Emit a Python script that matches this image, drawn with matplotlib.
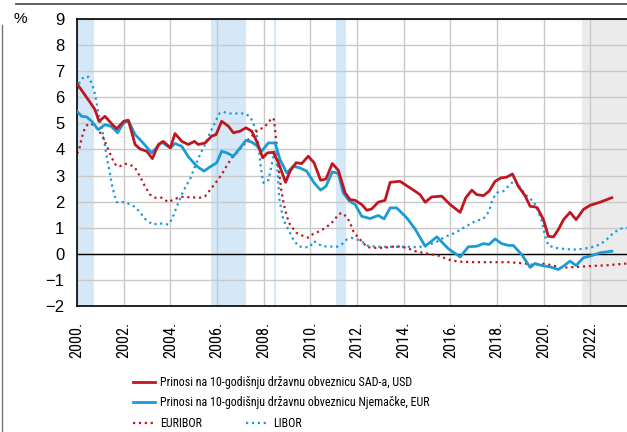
import matplotlib
matplotlib.use("Agg")
import matplotlib.pyplot as plt
from matplotlib import font_manager
import matplotlib.transforms as mtransforms
from matplotlib.lines import Line2D

# condensed font for legend and x labels
names = set(f.name for f in font_manager.fontManager.ttflist)
cond = "Liberation Sans"
for n in ["Liberation Sans Narrow", "Roboto Condensed", "Archivo Narrow",
          "Barlow Semi Condensed", "Asap Condensed"]:
    if n in names:
        cond = n
        break
plt.rcParams["font.family"] = [cond, "DejaVu Sans"]
regular = ["Liberation Sans", "DejaVu Sans"]

# prinosi na 10-godisnju obveznicu SAD-a
us_t = [2000.0, 2000.48, 2000.77, 2000.94, 2001.2, 2001.45, 2001.7, 2002.0, 2002.2, 2002.49,
        2002.7, 2002.99, 2003.23, 2003.49, 2003.7, 2004.0, 2004.2, 2004.49, 2004.77, 2005.03,
        2005.2, 2005.49, 2005.77, 2005.96, 2006.2, 2006.49, 2006.7, 2006.99, 2007.24, 2007.49,
        2007.7, 2007.96, 2008.16, 2008.41, 2008.63, 2008.94, 2009.13, 2009.39, 2009.63, 2009.91,
        2010.16, 2010.44, 2010.67, 2010.94, 2011.2, 2011.49, 2011.7, 2011.92, 2012.2, 2012.42,
        2012.63, 2012.91, 2013.2, 2013.42, 2013.84, 2014.27, 2014.49, 2014.7, 2014.92, 2015.2,
        2015.63, 2015.99, 2016.42, 2016.66, 2016.92, 2017.13, 2017.42, 2017.66, 2017.92, 2018.17,
        2018.42, 2018.66, 2018.91, 2019.2, 2019.42, 2019.63, 2019.73, 2019.99, 2020.2, 2020.42,
        2020.63, 2020.85, 2021.13, 2021.39, 2021.7, 2021.99, 2022.42, 2022.92]
us_y = [6.52, 5.91, 5.53, 5.08, 5.27, 5.02, 4.79, 5.08, 5.12, 4.19,
        4.02, 3.93, 3.65, 4.19, 4.31, 4.06, 4.61, 4.31, 4.19, 4.31,
        4.19, 4.25, 4.51, 4.57, 5.08, 4.89, 4.64, 4.70, 4.83, 4.70,
        4.31, 3.68, 3.87, 3.89, 3.49, 2.74, 3.17, 3.49, 3.46, 3.74,
        3.49, 2.82, 2.87, 3.46, 3.20, 2.34, 2.08, 2.05, 1.89, 1.67,
        1.72, 1.98, 2.05, 2.74, 2.78, 2.53, 2.40, 2.27, 1.98, 2.18,
        2.21, 1.89, 1.59, 2.15, 2.44, 2.27, 2.23, 2.40, 2.78, 2.91,
        2.94, 3.06, 2.59, 2.23, 1.82, 1.80, 1.76, 1.31, 0.67, 0.65,
        0.93, 1.31, 1.59, 1.31, 1.70, 1.86, 1.98, 2.15]

# prinosi na 10-godisnju obveznicu Njemacke
de_t = [2000.0, 2000.2, 2000.41, 2000.63, 2000.91, 2001.2, 2001.46, 2001.74, 2002.0, 2002.2,
        2002.49, 2002.77, 2003.2, 2003.63, 2004.0, 2004.2, 2004.49, 2004.77, 2005.13, 2005.44,
        2005.7, 2005.99, 2006.2, 2006.42, 2006.7, 2006.99, 2007.24, 2007.49, 2007.7, 2007.91,
        2008.2, 2008.49, 2008.7, 2008.99, 2009.27, 2009.56, 2009.84, 2010.16, 2010.44, 2010.67,
        2010.94, 2011.2, 2011.41, 2011.67, 2011.92, 2012.2, 2012.56, 2012.91, 2013.16, 2013.42,
        2013.7, 2014.13, 2014.49, 2014.92, 2015.42, 2015.92, 2016.42, 2016.77, 2017.13, 2017.42,
        2017.66, 2017.92, 2018.2, 2018.49, 2018.7, 2019.06, 2019.42, 2019.63, 2019.92, 2020.27,
        2020.63, 2020.85, 2021.13, 2021.39, 2021.7, 2022.06, 2022.42, 2022.92]
de_y = [5.46, 5.27, 5.25, 5.08, 4.76, 4.95, 4.89, 4.64, 5.02, 5.11,
        4.57, 4.31, 3.87, 4.28, 4.06, 4.23, 4.12, 3.72, 3.36, 3.17,
        3.33, 3.49, 3.93, 3.87, 3.74, 4.06, 4.35, 4.28, 4.15, 3.93,
        4.25, 4.25, 3.61, 3.10, 3.36, 3.29, 3.17, 2.72, 2.44, 2.59,
        3.14, 3.08, 2.34, 2.02, 1.89, 1.44, 1.35, 1.47, 1.34, 1.76,
        1.76, 1.38, 0.95, 0.29, 0.65, 0.19, -0.12, 0.27, 0.29, 0.39,
        0.36, 0.57, 0.39, 0.32, 0.32, -0.03, -0.52, -0.37, -0.45, -0.50,
        -0.60, -0.47, -0.28, -0.45, -0.15, -0.07, 0.04, 0.10]

euribor_t = [2000.0, 2000.1, 2000.2, 2000.34, 2000.49, 2000.7, 2000.91, 2001.13, 2001.34, 2001.56,
             2001.7, 2001.84, 2002.06, 2002.27, 2002.49, 2002.7, 2002.91, 2003.13, 2003.34, 2003.63,
             2003.91, 2004.2, 2004.49, 2004.84, 2005.27, 2005.49, 2005.63, 2005.77, 2005.99, 2006.2,
             2006.42, 2006.63, 2006.84, 2007.06, 2007.34, 2007.56, 2007.77, 2007.99, 2008.2, 2008.34,
             2008.44, 2008.49, 2008.56, 2008.63, 2008.73, 2008.84, 2008.99, 2009.13, 2009.41, 2009.7,
             2009.91, 2010.13, 2010.41, 2010.7, 2010.99, 2011.2, 2011.34, 2011.56, 2011.7, 2011.84,
             2012.06, 2012.27, 2012.42, 2012.63, 2013.13, 2013.7, 2014.13, 2014.5, 2015.06, 2015.49,
             2015.92, 2016.34, 2017.06, 2018.49, 2019.2, 2019.56, 2019.99, 2020.42, 2020.7, 2021.27,
             2021.99, 2022.7, 2023.57]
euribor_y = [3.84, 4.02, 4.44, 4.83, 4.99, 4.95, 4.76, 4.44, 4.00, 3.55,
             3.36, 3.36, 3.45, 3.42, 3.29, 2.97, 2.59, 2.27, 2.15, 2.15,
             1.98, 2.11, 2.18, 2.17, 2.15, 2.21, 2.36, 2.53, 2.78, 3.04,
             3.38, 3.68, 3.87, 4.10, 4.38, 4.57, 4.76, 4.83, 5.02, 5.21,
             5.15, 4.76, 4.12, 3.36, 2.59, 2.00, 1.44, 1.12, 0.80, 0.68,
             0.62, 0.77, 0.87, 1.03, 1.25, 1.51, 1.57, 1.42, 1.19, 0.87,
             0.61, 0.42, 0.27, 0.23, 0.23, 0.29, 0.23, 0.10, 0.00, -0.07,
             -0.22, -0.30, -0.32, -0.32, -0.37, -0.43, -0.38, -0.45, -0.54, -0.51,
             -0.47, -0.44, -0.37]

libor_t = [2000.0, 2000.1, 2000.2, 2000.34, 2000.49, 2000.63, 2000.74, 2000.84, 2000.94, 2001.06,
           2001.17, 2001.27, 2001.41, 2001.51, 2001.63, 2001.7, 2002.06, 2002.49, 2002.7, 2002.91,
           2003.24, 2003.49, 2003.7, 2003.91, 2004.06, 2004.2, 2004.34, 2004.49, 2004.7, 2004.84,
           2005.06, 2005.27, 2005.49, 2005.7, 2005.91, 2006.1, 2006.27, 2006.49, 2006.77, 2007.2,
           2007.39, 2007.53, 2007.67, 2007.77, 2007.84, 2007.91, 2007.99, 2008.1, 2008.2, 2008.3,
           2008.39, 2008.49, 2008.59, 2008.67, 2008.84, 2009.06, 2009.27, 2009.49, 2009.77, 2009.99,
           2010.13, 2010.27, 2010.49, 2011.13, 2011.34, 2011.56, 2011.77, 2011.99, 2012.2, 2012.42,
           2012.84, 2014.27, 2014.63, 2014.92, 2015.34, 2015.77, 2016.2, 2016.63, 2017.06, 2017.42,
           2017.66, 2017.8, 2017.99, 2018.27, 2018.56, 2018.77, 2019.06, 2019.34, 2019.56, 2019.77,
           2019.92, 2020.06, 2020.2, 2020.49, 2020.85, 2021.27, 2021.7, 2022.13, 2022.42, 2022.7,
           2022.99, 2023.27, 2023.57]
libor_y = [6.30, 6.55, 6.70, 6.80, 6.78, 6.55, 6.23, 5.79, 5.27, 4.83,
           4.31, 3.74, 3.10, 2.59, 2.18, 1.98, 1.98, 1.80, 1.59, 1.34,
           1.12, 1.16, 1.16, 1.12, 1.31, 1.63, 1.95, 2.27, 2.65, 2.85,
           3.36, 3.80, 4.19, 4.64, 5.02, 5.38, 5.44, 5.38, 5.38, 5.38,
           5.27, 5.08, 4.70, 4.25, 3.61, 3.10, 2.72, 2.82, 2.82, 3.23,
           3.61, 4.00, 3.23, 2.10, 1.31, 0.93, 0.55, 0.29, 0.25, 0.27,
           0.48, 0.44, 0.29, 0.27, 0.36, 0.55, 0.61, 0.55, 0.48, 0.32,
           0.27, 0.27, 0.25, 0.32, 0.42, 0.65, 0.80, 1.03, 1.25, 1.34,
           1.63, 2.08, 2.34, 2.40, 2.66, 2.82, 2.46, 2.15, 2.02, 1.63,
           1.25, 0.67, 0.32, 0.23, 0.19, 0.16, 0.19, 0.27, 0.36, 0.55,
           0.80, 0.96, 1.00]

labels = ["Prinosi na 10-godišnju državnu obveznicu SAD-a, USD",
          "Prinosi na 10-godišnju državnu obveznicu Njemačke, EUR",
          "EURIBOR", "LIBOR"]

# recesije (plavo) i projekcija (sivo)
recessions = [(2000.0, 2000.73), (2005.74, 2007.23), (2008.44, 2008.53), (2011.1, 2011.52)]
gray_start = 2021.65

red = "#bf1720"
blue = "#1a9bd7"

W, H = 627, 432
fig = plt.figure(figsize=(W/100, H/100), dpi=100)
renderer = fig.canvas.get_renderer()


def fit_size(text, width_px):
    # velicina fonta tako da tekst bude zadane sirine
    t = fig.text(0, 0, text, fontsize=10)
    w = t.get_window_extent(renderer).width
    t.remove()
    return 10 * width_px / w


xt_size = fit_size("2000.", 36)
leg_size = fit_size(labels[0], 252)

ax = fig.add_axes([77/W, 126/H, 550/W, 287/H])

for a, b in recessions:
    ax.axvspan(a, b, color="#d4e8f7", lw=0, zorder=0)
ax.axvspan(gray_start, 2030, color="#ebebeb", lw=0, zorder=0)

ax.set_axisbelow("line")
ax.grid(True, color="#c9c9c9", lw=1.0)
ax.axhline(0, color="black", lw=1.0, zorder=1.8)

ax.plot(libor_t, libor_y, color=blue, lw=1.6, ls=":", zorder=2)
ax.plot(euribor_t, euribor_y, color=red, lw=1.6, ls=":", zorder=2)
ax.plot(de_t, de_y, color=blue, lw=2.0, zorder=3)
ax.plot(us_t, us_y, color=red, lw=2.0, zorder=3)

ax.set_xlim(2000, 2023.57)
ax.set_ylim(-2, 9)
ax.set_yticks(range(-2, 10))
ax.set_yticklabels([str(v).replace("-", "\u2212") for v in range(-2, 10)], fontsize=12,
                   family=regular)
years = list(range(2000, 2023, 2))
ax.set_xticks(years)
ax.set_xticklabels([f"{y}." for y in years], rotation=90, fontsize=xt_size)
shift = mtransforms.ScaledTranslation(2/100, 0, fig.dpi_scale_trans)
for lab in ax.get_xticklabels():
    lab.set_transform(lab.get_transform() + shift)
ax.tick_params(axis="both", length=0)
ax.tick_params(axis="y", pad=9)
ax.tick_params(axis="x", pad=11)
for s in ["top", "left", "bottom"]:
    ax.spines[s].set_color("black")
    ax.spines[s].set_linewidth(1.2)
ax.spines["right"].set_visible(False)

fig.text(14/W, 1 - 19/H, "%", fontsize=11, va="center", ha="left", family=regular)

# okvir
fig.add_artist(Line2D([16/W, 1], [1 - 4/H, 1 - 4/H], color="#555555", lw=1.3))
fig.add_artist(Line2D([2/W, 2/W], [0, 1 - 25/H], color="#777777", lw=1.0))

# legenda, svaki red posebno
fpx = leg_size * 100 / 72
handles = [Line2D([], [], color=red, lw=2.0),
           Line2D([], [], color=blue, lw=2.0),
           Line2D([], [], color=red, lw=1.6, ls=":"),
           Line2D([], [], color=blue, lw=1.6, ls=":")]
leg_pos = [(133, 382.7), (133, 402.7), (133, 423.3), (246, 423.3)]
for h, lab, (lx, ly) in zip(handles, labels, leg_pos):
    fig.legend([h], [lab], frameon=False, fontsize=leg_size, handlelength=22/fpx,
               handletextpad=5/fpx, borderpad=0, borderaxespad=0, loc="center left",
               bbox_to_anchor=(lx/W, 1 - ly/H))

fig.savefig("out.png", dpi=100)
